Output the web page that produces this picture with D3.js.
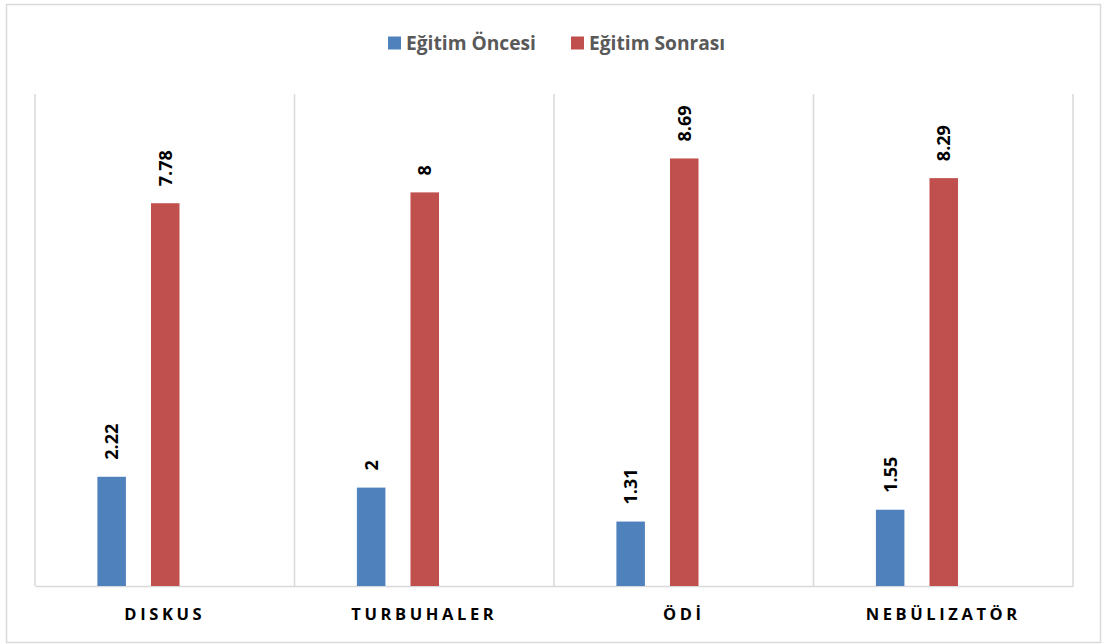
<!DOCTYPE html>
<html><head><meta charset="utf-8">
<script src="https://cdn.jsdelivr.net/npm/d3@7"></script>
<style>body{margin:0;background:#fff}svg{display:block}</style>
</head><body>
<svg id="chart" width="1103" height="644"></svg>
<script>
const categories = ["DISKUS", "TURBUHALER", "ÖDİ", "NEBÜLIZATÖR"];
const seriesNames = ["Eğitim Öncesi", "Eğitim Sonrası"];
const before = [2.22, 2, 1.31, 1.55];
const after = [7.78, 8, 8.69, 8.29];
const colors = ["#4F81BD", "#C0504D"];

const svg = d3.select("#chart");
const m = {left: 35, right: 1073, top: 94, bottom: 586};

svg.append("rect").attr("x", 6.5).attr("y", 4.5).attr("width", 1094).attr("height", 638)
  .attr("fill", "#fff").attr("stroke", "#d9d9d9").attr("stroke-width", 1.5);

const x0 = d3.scaleBand().domain(categories).range([m.left, m.right]).padding(0);
const slots = ["a", "b", "c"]; // third slot is an empty series in the original
const x1 = d3.scaleBand().domain(slots).range([0, x0.bandwidth()]).paddingInner(0.468).paddingOuter(1.155);
const y = d3.scaleLinear().domain([0, 10]).range([m.bottom, m.top]);

const seps = categories.map(c => x0(c)).concat([m.right]);
svg.append("g").selectAll("line").data(seps).join("line")
  .attr("x1", d => d).attr("x2", d => d).attr("y1", m.top).attr("y2", m.bottom)
  .attr("stroke", "#d9d9d9").attr("stroke-width", 1.5);

const xAxis = d3.axisBottom(x0).tickSize(0).tickPadding(22);
const gx = svg.append("g").attr("transform", `translate(0,${m.bottom})`).call(xAxis);
gx.select(".domain").attr("stroke", "#d9d9d9").attr("stroke-width", 1.5);
gx.selectAll("text").attr("font-family", "'Open Sans', sans-serif").attr("font-weight", "bold")
  .attr("font-size", 16.5).attr("fill", "#000").attr("letter-spacing", "3.6px");

const data = categories.map((c, i) => ({cat: c, vals: [before[i], after[i]]}));
const groups = svg.append("g").selectAll("g").data(data).join("g")
  .attr("transform", d => `translate(${x0(d.cat)},0)`);

groups.selectAll("rect").data(d => d.vals.map((v, j) => ({v, j}))).join("rect")
  .attr("x", d => x1(slots[d.j]) + 0.5).attr("width", x1.bandwidth())
  .attr("y", d => y(d.v)).attr("height", d => y(0) - y(d.v))
  .attr("fill", d => colors[d.j]);

groups.selectAll("text.lbl").data(d => d.vals.map((v, j) => ({v, j}))).join("text")
  .attr("class", "lbl")
  .attr("transform", d => `translate(${x1(slots[d.j]) + x1.bandwidth() / 2 + 0.5},${y(d.v) - 17}) rotate(-90)`)
  .attr("dy", "0.36em")
  .attr("font-family", "'Open Sans', sans-serif").attr("font-weight", "bold").attr("font-size", 18)
  .attr("fill", "#000").text(d => d3.format("~g")(d.v));

const lg = svg.append("g");
const legX = [388, 571];
seriesNames.forEach((s, i) => {
  lg.append("rect").attr("x", legX[i]).attr("y", 36.5).attr("width", 13).attr("height", 13).attr("fill", colors[i]);
  lg.append("text").attr("x", legX[i] + 18).attr("y", 50)
    .attr("font-family", "'Open Sans', sans-serif").attr("font-weight", "bold").attr("font-size", 19.2)
    .attr("fill", "#595959").text(s);
});
</script>
</body></html>
